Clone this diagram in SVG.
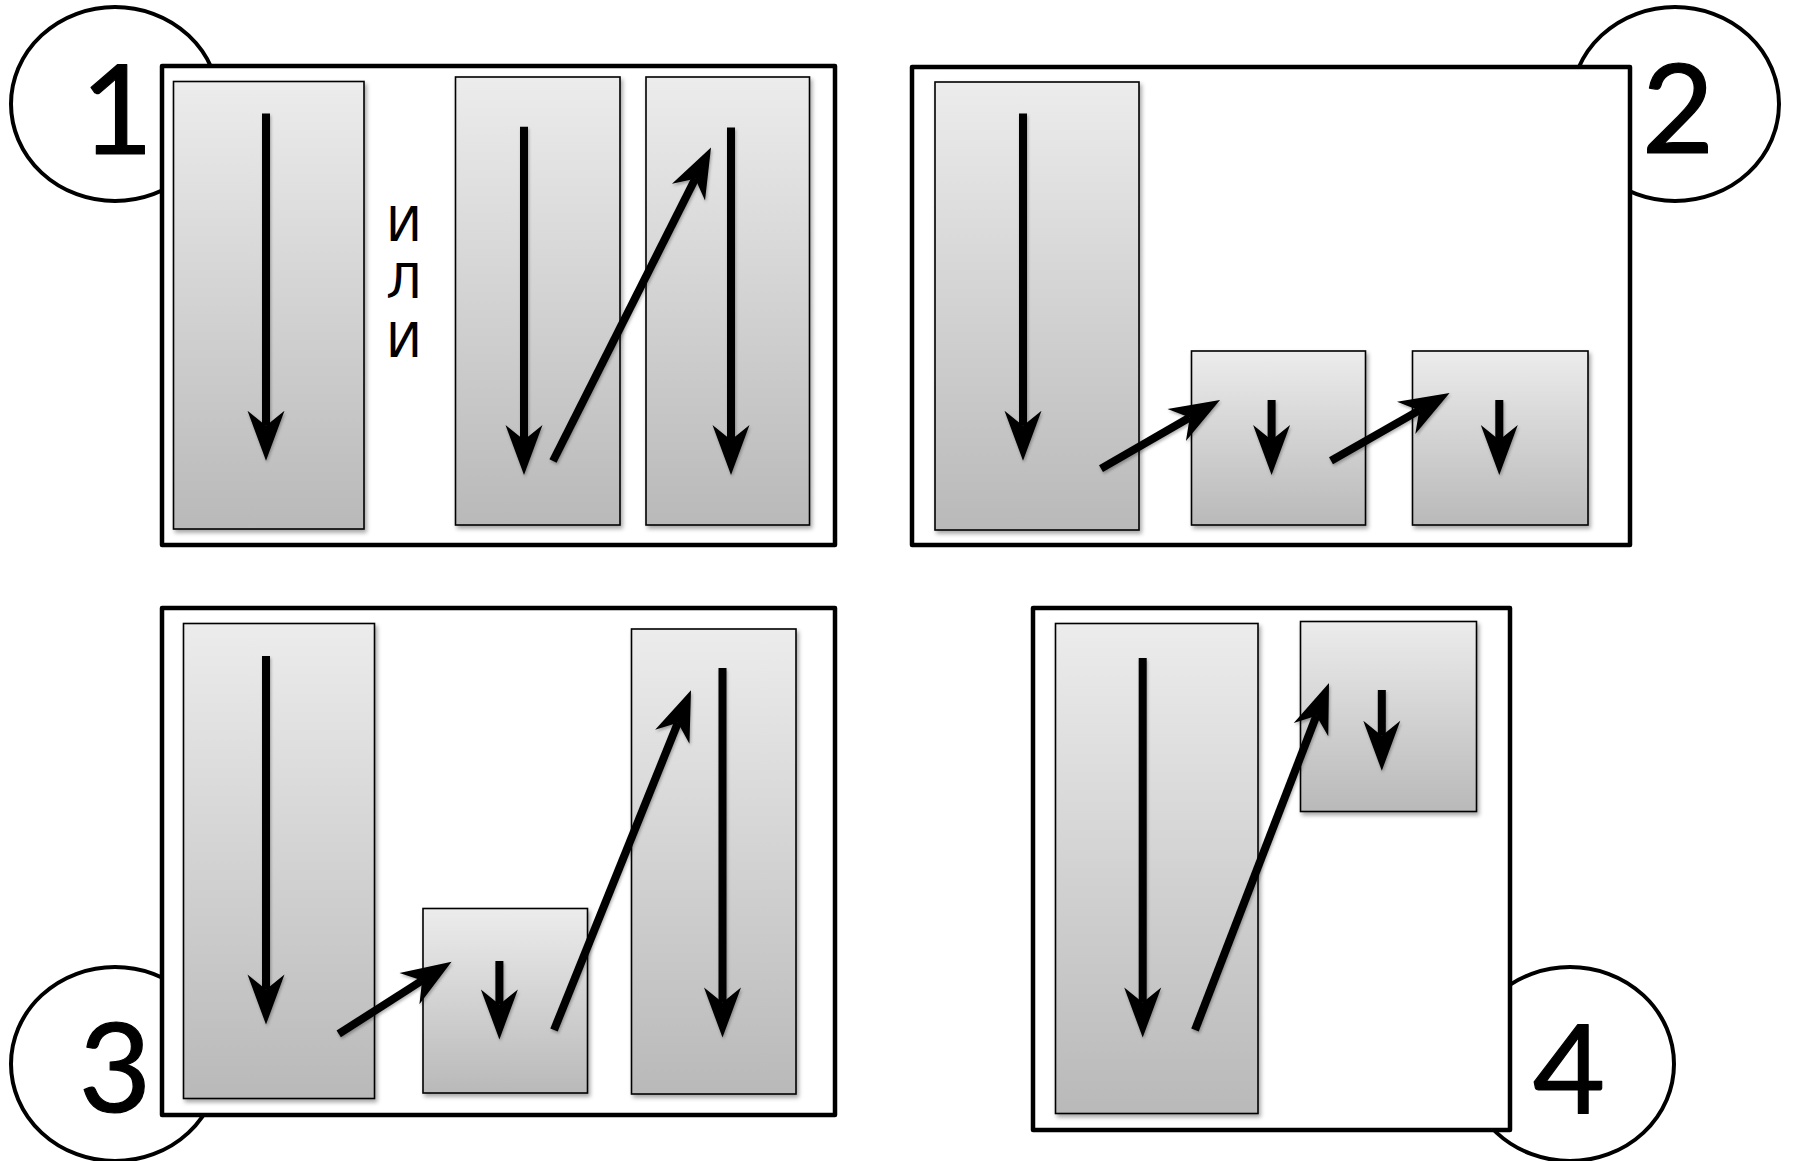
<svg xmlns="http://www.w3.org/2000/svg" width="1797" height="1161" viewBox="0 0 1797 1161">
<defs>
<linearGradient id="g" x1="0" y1="0" x2="0" y2="1">
<stop offset="0" stop-color="#ececec"/>
<stop offset="1" stop-color="#b9b9b9"/>
</linearGradient>
<filter id="sh" x="-10%" y="-10%" width="130%" height="130%">
<feDropShadow dx="2" dy="3" stdDeviation="2" flood-color="#000" flood-opacity="0.35"/>
</filter>
<filter id="ash" x="-10%" y="-10%" width="130%" height="130%">
<feDropShadow dx="1" dy="2" stdDeviation="1.5" flood-color="#000" flood-opacity="0.3"/>
</filter>
<marker id="ah" markerUnits="userSpaceOnUse" viewBox="-17 -20 54 40" markerWidth="54" markerHeight="40" refX="0" refY="0" orient="auto">
<path d="M35,0 L-15,-18.5 L0,0 L-15,18.5 Z" fill="#000"/>
</marker>
</defs>
<style>
.frame{fill:#fff;stroke:#000;stroke-width:4.5;stroke-linejoin:round}
.circ{fill:#fff;stroke:#000;stroke-width:4}
.box{fill:url(#g);stroke:#000;stroke-width:1.6;filter:url(#sh)}
.arr{stroke:#000;stroke-width:8;fill:none;marker-end:url(#ah)}
.num{font-family:Lato,"DejaVu Sans",sans-serif;font-weight:400;font-size:125px;fill:#000;stroke:#000;stroke-width:1.2;stroke-linejoin:round;text-anchor:middle}
.ili{font-family:"DejaVu Sans",sans-serif;font-size:48px;fill:#000;text-anchor:middle}
</style>
<g id="label1"><ellipse class="circ" cx="115" cy="104" rx="104" ry="97"/><text class="num" x="117" y="154">1</text></g>
<g id="label2"><ellipse class="circ" cx="1675" cy="104" rx="104" ry="97"/><text class="num" x="1678" y="153">2</text></g>
<g id="label3"><ellipse class="circ" cx="115" cy="1064" rx="104" ry="97"/><text class="num" x="115" y="1112">3</text></g>
<g id="label4"><ellipse class="circ" cx="1570" cy="1064" rx="104" ry="97"/><text class="num" x="1569" y="1113">4</text></g>
<g id="frame1"><rect class="frame" x="162" y="66" width="673" height="479"/></g>
<g id="frame2"><rect class="frame" x="912" y="67" width="718" height="478"/></g>
<g id="frame3"><rect class="frame" x="162" y="608" width="673" height="507"/></g>
<g id="frame4"><rect class="frame" x="1033" y="608" width="477" height="522"/></g>
<g id="boxA"><rect class="box" x="173.5" y="81.5" width="190.5" height="447.5"/></g>
<g id="boxB"><rect class="box" x="455.5" y="77" width="164.5" height="448"/></g>
<g id="boxC"><rect class="box" x="646" y="77" width="163.5" height="448"/></g>
<g id="boxD"><rect class="box" x="935" y="82" width="204" height="448"/></g>
<g id="boxE"><rect class="box" x="1191.5" y="351" width="174" height="174"/></g>
<g id="boxF"><rect class="box" x="1412.5" y="351" width="175.5" height="174"/></g>
<g id="boxG"><rect class="box" x="183.5" y="623.5" width="191" height="475"/></g>
<g id="boxH"><rect class="box" x="423" y="908.5" width="164.5" height="184.5"/></g>
<g id="boxI"><rect class="box" x="631.5" y="629" width="164.5" height="465"/></g>
<g id="boxJ"><rect class="box" x="1055.5" y="623.5" width="202.5" height="490"/></g>
<g id="boxK"><rect class="box" x="1300.5" y="621.5" width="176" height="190"/></g>
<g id="ili">
<text class="ili" x="404" y="241">И</text>
<text class="ili" x="404" y="298">Л</text>
<text class="ili" x="404" y="357">И</text>
</g>
<g id="connectors" filter="url(#ash)">
<line class="arr" x1="266" y1="113.6" x2="266" y2="425.7"/>
<line class="arr" x1="524" y1="126.8" x2="524" y2="440"/>
<line class="arr" x1="731" y1="127.5" x2="731" y2="440"/>
<line class="arr" x1="553" y1="461" x2="695.25" y2="178.8"/>
<line class="arr" x1="1023" y1="113.6" x2="1023" y2="425.7"/>
<line class="arr" x1="1271.6" y1="400" x2="1271.6" y2="440"/>
<line class="arr" x1="1499.3" y1="400" x2="1499.3" y2="440"/>
<line class="arr" x1="1101" y1="468.6" x2="1189.7" y2="417.5"/>
<line class="arr" x1="1331" y1="460.7" x2="1419.2" y2="410.4"/>
<line class="arr" x1="266" y1="656" x2="266" y2="989.6"/>
<line class="arr" x1="499.4" y1="961" x2="499.4" y2="1004.4"/>
<line class="arr" x1="722.5" y1="668" x2="722.5" y2="1002.6"/>
<line class="arr" x1="338.7" y1="1033.9" x2="422.1" y2="980.5"/>
<line class="arr" x1="554" y1="1030" x2="677.9" y2="722.8"/>
<line class="arr" x1="1142.7" y1="658" x2="1142.7" y2="1002.6"/>
<line class="arr" x1="1381.8" y1="690" x2="1381.8" y2="735.8"/>
<line class="arr" x1="1195" y1="1030" x2="1316.4" y2="715.7"/>
</g>
</svg>
